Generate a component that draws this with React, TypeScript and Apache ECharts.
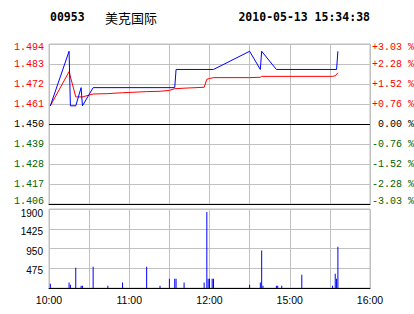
import React, { useEffect, useRef } from "react";
import * as echarts from "echarts";

// ---- data ----
const stockCode = "00953";
const stockName = "美克国际";
const stampText = "2010-05-13 15:34:38";
const prevClose = 1.45;
const priceMin = 1.406;
const priceMax = 1.494;
const priceStep = 0.011;
const timeTickLabels = ["10:00", "", "11:00", "", "12:00", "", "15:00", "", "16:00"];

// minute index (0 = 10:00, 240 = 16:00, lunch removed)
const priceT = [1, 15, 16, 20, 24, 25, 33, 94, 95, 123, 150, 158, 159, 170, 215, 216];
const priceV = [1.46, 1.49, 1.46, 1.46, 1.47, 1.46, 1.47, 1.47, 1.48, 1.48, 1.49, 1.48, 1.49, 1.48, 1.48, 1.49];

const avgT = [1, 15, 20, 25, 33, 44, 55, 73, 83, 90, 94, 101, 116, 118, 120, 123, 150, 158, 159, 212, 214, 216];
const avgV = [1.46, 1.4788, 1.4649, 1.4649, 1.4665, 1.4667, 1.4672, 1.4678, 1.468, 1.4685, 1.4694, 1.4697, 1.4702, 1.4746, 1.475, 1.4755, 1.4755, 1.4757, 1.4762, 1.4762, 1.4765, 1.4782];

const volT = [1, 15, 16, 20, 24, 25, 33, 44, 55, 73, 83, 90, 94, 95, 101, 116, 118, 119, 120, 122, 123, 150, 158, 159, 160, 170, 171, 174, 189, 212, 214, 215, 216];
const volV = [100, 130, 80, 490, 55, 55, 510, 55, 130, 510, 55, 225, 225, 225, 130, 130, 1830, 225, 225, 225, 225, 80, 130, 900, 55, 55, 55, 55, 320, 55, 345, 225, 990];
const volTicks = [0, 475, 950, 1425, 1900];

const GRAY = "#C0C0C0";

export default function App() {
  const ref = useRef<HTMLDivElement>(null);
  useEffect(() => {
    document.body.style.margin = "0";
    const chart = echarts.init(ref.current!, null, { renderer: "svg" });
    const priceData = priceT.map((t, i) => [t, priceV[i]]);
    const avgData = avgT.map((t, i) => [t, avgV[i]]);
    const volData = volT.map((t, i) => [t, volV[i]]);
    const monoFont = "Liberation Mono";
    const near = (a: number, b: number) => Math.abs(a - b) < 1e-6;
    const pos = (v: number) => (near(v, priceMax) ? "T" : near(v, priceMin) ? "B" : "");
    const mk = (color: string) => ({ color, fontFamily: monoFont, fontSize: 10 });
    const priceRich: any = {
      r: mk("#FF0000"),
      g: mk("#006400"),
      k: mk("#000000"),
      rT: { ...mk("#FF0000"), padding: [6, 0, 0, 0] },
      gB: { ...mk("#006400"), padding: [0, 0, 6, 0] },
    };
    const xCommon = {
      type: "value",
      min: 0,
      max: 240,
      interval: 30,
      axisTick: { show: false },
      axisLine: { show: true, lineStyle: { color: "#000", width: 1 } },
      splitLine: { show: true, lineStyle: { color: GRAY, width: 1 } },
    };
    const volFont = { color: "#000", fontFamily: "Liberation Sans", fontSize: 10 };
    const option: any = {
      animation: false,
      backgroundColor: "#fff",
      grid: [
        { left: 49, top: 44, width: 321, height: 160, show: true, borderColor: GRAY, borderWidth: 1, outerBoundsMode: "none" },
        { left: 49, top: 209, width: 321, height: 79, show: true, borderColor: GRAY, borderWidth: 1, outerBoundsMode: "none" },
      ],
      xAxis: [
        { ...xCommon, gridIndex: 0, axisLabel: { show: false } },
        {
          ...xCommon,
          gridIndex: 1,
          axisLabel: {
            show: true,
            color: "#000",
            fontFamily: "Liberation Sans",
            fontSize: 10.5,
            margin: 6,
            formatter: (v: number) => timeTickLabels[Math.round(v / 30)] || "",
          },
        },
      ],
      yAxis: [
        {
          type: "value",
          gridIndex: 0,
          min: priceMin,
          max: priceMax,
          interval: priceStep,
          axisLine: { show: false },
          axisTick: { show: false },
          splitLine: { show: true, lineStyle: { color: GRAY, width: 1 } },
          axisLabel: {
            margin: 5,
            formatter: (v: number) => {
              const s = v.toFixed(3);
              if (near(v, prevClose)) return "{k|" + s + "}";
              return (v > prevClose ? "{r" : "{g") + pos(v) + "|" + s + "}";
            },
            rich: priceRich,
          },
        },
        {
          type: "value",
          gridIndex: 0,
          position: "right",
          min: priceMin,
          max: priceMax,
          interval: priceStep,
          axisLine: { show: false },
          axisTick: { show: false },
          splitLine: { show: false },
          axisLabel: {
            margin: 2,
            align: "left",
            formatter: (v: number) => {
              const pct = ((v - prevClose) / prevClose) * 100;
              if (near(v, prevClose)) return "{k| 0.00 %}";
              const s = (pct > 0 ? "+" : "-") + Math.abs(pct).toFixed(2) + " %";
              return (pct > 0 ? "{r" : "{g") + pos(v) + "|" + s + "}";
            },
            rich: priceRich,
          },
        },
        {
          type: "value",
          gridIndex: 1,
          min: volTicks[0],
          max: volTicks[volTicks.length - 1],
          interval: volTicks[1] - volTicks[0],
          axisLine: { show: false },
          axisTick: { show: false },
          splitLine: { show: true, lineStyle: { color: GRAY, width: 1 } },
          axisLabel: {
            margin: 6,
            formatter: (v: number) => (v === 0 ? "" : v === volTicks[volTicks.length - 1] ? "{t|" + v + "}" : "{n|" + v + "}"),
            rich: {
              t: { ...volFont, padding: [8, 0, 0, 0] },
              n: { ...volFont, padding: [5, 0, 0, 0] },
            },
          },
        },
      ],
      series: [
        {
          type: "line",
          xAxisIndex: 0,
          yAxisIndex: 0,
          data: avgData,
          symbol: "none",
          lineStyle: { color: "#FF0000", width: 1 },
          z: 3,
        },
        {
          type: "line",
          xAxisIndex: 0,
          yAxisIndex: 0,
          data: priceData,
          symbol: "none",
          lineStyle: { color: "#0000FF", width: 1 },
          z: 4,
          markLine: {
            silent: true,
            symbol: "none",
            label: { show: false },
            lineStyle: { color: "#000", width: 1, type: "solid" },
            data: [{ yAxis: prevClose }],
          },
        },
        {
          type: "bar",
          xAxisIndex: 1,
          yAxisIndex: 2,
          data: volData,
          barWidth: 1,
          itemStyle: { color: "#0000FF" },
        },
      ],
      graphic: [
        {
          type: "text",
          x: 50,
          y: 17,
          style: { text: stockCode, font: 'bold 11.5px "DejaVu Sans Mono"', fill: "#000", textAlign: "left", textVerticalAlign: "middle" },
        },
        {
          type: "text",
          x: 105,
          y: 17,
          style: { text: stockName, font: '13px "Noto Sans CJK SC"', fill: "#000", textAlign: "left", textVerticalAlign: "middle" },
        },
        {
          type: "text",
          x: 370,
          y: 17,
          style: { text: stampText, font: 'bold 11.5px "DejaVu Sans Mono"', fill: "#000", textAlign: "right", textVerticalAlign: "middle" },
        },
      ],
    };
    chart.setOption(option);
    return () => chart.dispose();
  }, []);
  return <div ref={ref} style={{ width: 414, height: 314 }} />;
}
